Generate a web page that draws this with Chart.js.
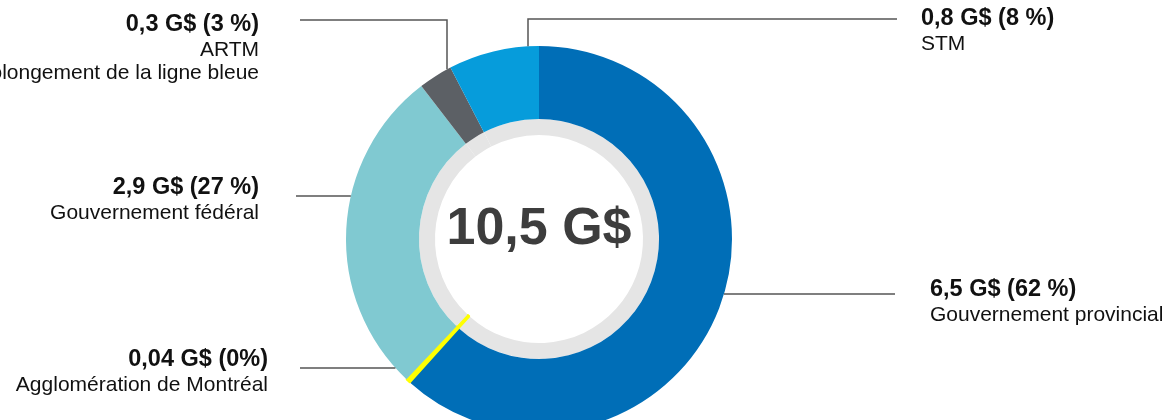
<!DOCTYPE html>
<html lang="fr">

<head>
  <meta charset="UTF-8">
  <title>Financement 10,5 G$</title>
  <style>
    html, body { margin: 0; padding: 0; overflow: hidden; background: #fff; }
    #wrap { width: 1168px; height: 440px; position: relative; }
  </style>
</head>

<body>
  <div id="wrap">
    <canvas id="chart-canvas"></canvas>
  </div>

  <script src="https://cdn.jsdelivr.net/npm/chart.js@4.4.8/dist/chart.umd.min.js"></script>
  <script>
    // data
    const categories = [
      ['Gouvernement provincial'],
      ['Agglomération de Montréal'],
      ['Gouvernement fédéral'],
      ['ARTM', 'Prolongement de la ligne bleue'],
      ['STM']
    ];
    const values = [6.5, 0.04, 2.9, 0.3, 0.8];
    const amountLabels = ['6,5 G$ (62 %)', '0,04 G$ (0%)', '2,9 G$ (27 %)', '0,3 G$ (3 %)', '0,8 G$ (8 %)'];
    const totalLabel = '10,5 G$';

    const colors = ['#006eb7', '#ffff00', '#80c9d1', '#5c6065', '#069cdb'];
    const ringColors = ['#e5e5e5', '#ffff00', '#e5e5e5', '#e5e5e5', '#e5e5e5'];

    // where each callout goes (leader line + text block)
    const callouts = [
      { kind: 'h', y: 294, toX: 895, textX: 930, textY: 290, align: 'left' },
      { kind: 'h', y: 368, toX: 300, textX: 268, textY: 360, align: 'right' },
      { kind: 'h', y: 196, toX: 296, textX: 259, textY: 188, align: 'right' },
      { kind: 'v', x: 447, topY: 20, toX: 300, textX: 259, textY: 25, align: 'right' },
      { kind: 'v', x: 528, topY: 19, toX: 897, textX: 921, textY: 19, align: 'left' }
    ];

    const calloutPlugin = {
      id: 'callouts',
      afterDraw(chart) {
        const ctx = chart.ctx;
        const arc = chart.getDatasetMeta(0).data[0];
        const cx = arc.x, cy = arc.y, R = arc.outerRadius;

        ctx.save();
        ctx.strokeStyle = '#555';
        ctx.lineWidth = 1.5;

        callouts.forEach((c, i) => {
          ctx.beginPath();
          if (c.kind === 'h') {
            const dx = Math.sqrt(Math.max(R * R - (c.y - cy) * (c.y - cy), 0));
            const x0 = c.toX > cx ? cx + dx : cx - dx;
            ctx.moveTo(x0, c.y);
            ctx.lineTo(c.toX, c.y);
          } else {
            const dy = Math.sqrt(Math.max(R * R - (c.x - cx) * (c.x - cx), 0));
            ctx.moveTo(c.x, cy - dy);
            ctx.lineTo(c.x, c.topY);
            ctx.lineTo(c.toX, c.topY);
          }
          ctx.stroke();

          // text block
          ctx.textAlign = c.align;
          ctx.textBaseline = 'middle';
          ctx.fillStyle = '#111';
          ctx.font = 'bold 23.5px "Liberation Sans", Arial, sans-serif';
          ctx.fillText(amountLabels[i], c.textX, c.textY);
          ctx.font = '21px "Liberation Sans", Arial, sans-serif';
          categories[i].forEach((line, j) => {
            ctx.fillText(line, c.textX, c.textY + 25 + j * 23);
          });
        });

        // total in the middle
        ctx.textAlign = 'center';
        ctx.textBaseline = 'middle';
        ctx.fillStyle = '#3d3d3d';
        ctx.font = 'bold 52px "Liberation Sans", Arial, sans-serif';
        ctx.fillText(totalLabel, cx, 230);
        ctx.restore();
      }
    };

    const context = document.getElementById('chart-canvas').getContext('2d');
    const chart = new Chart(context, {
      type: 'doughnut',
      data: {
        labels: categories.map(c => c[0]),
        datasets: [
          {
            data: values,
            backgroundColor: colors,
            borderColor: colors,
            borderWidth: [0, 2, 0, 0, 0],
            weight: 73
          },
          {
            data: values,
            backgroundColor: ringColors,
            borderColor: ringColors,
            borderWidth: [0, 2, 0, 0, 0],
            weight: 16
          }
        ]
      },
      options: {
        responsive: true,
        maintainAspectRatio: false,
        animation: false,
        cutout: '53.9%',
        events: [],
        layout: {
          padding: { top: 45, bottom: 7, left: 345, right: 435 }
        },
        plugins: {
          legend: { display: false },
          tooltip: { enabled: false }
        }
      },
      plugins: [calloutPlugin]
    });
  </script>
</body>

</html>
